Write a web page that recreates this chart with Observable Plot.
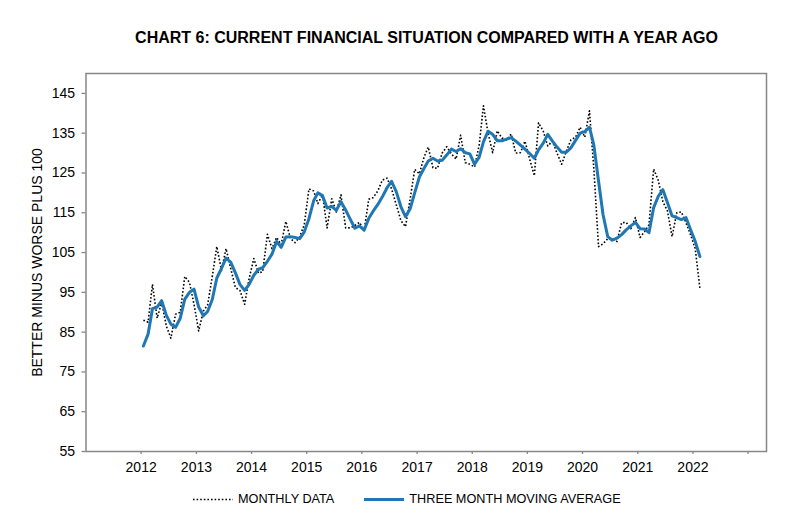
<!DOCTYPE html>
<html><head><meta charset="utf-8">
<script src="https://cdn.jsdelivr.net/npm/d3@7"></script>
<script src="https://cdn.jsdelivr.net/npm/@observablehq/plot@0.6"></script>
<style>
body{margin:0;background:#fff;font-family:"Liberation Sans",Arial,sans-serif;color:#000;}
#wrap{position:relative;width:797px;height:529px;overflow:hidden;}
#title{position:absolute;top:29px;left:0;width:797px;text-align:center;font-weight:bold;font-size:16px;line-height:18px;transform:translateX(28px);}
#chart{position:absolute;top:55px;left:0;}
#legend{position:absolute;top:492px;left:193px;font-size:12.7px;line-height:15px;height:15px;display:flex;align-items:center;white-space:nowrap;}
#legend svg{display:block;}
</style></head>
<body>
<div id="wrap">
  <div id="title"></div>
  <div id="chart"></div>
  <div id="legend"></div>
</div>
<script>
const titleText = "CHART 6: CURRENT FINANCIAL SITUATION COMPARED WITH A YEAR AGO";
const yLabel = "BETTER MINUS WORSE PLUS 100";
const seriesNames = ["MONTHLY DATA", "THREE MONTH MOVING AVERAGE"];
const startYear = 2012; // first month: January 2012
const monthly = [
  88, 87.5, 97, 88.5, 92.5, 86.5, 83.5, 89.5, 90, 99, 97.5, 92,
  85.3, 90.3, 91.8, 99, 106.5, 100.5, 106, 101, 96.2, 95.5, 92, 98.5,
  103.5, 99.8, 100.2, 109.6, 106, 108.8, 107, 112.8, 108.5, 107.5, 109, 112,
  121, 120.5, 117.3, 119.5, 111.2, 118.5, 115.2, 119.5, 111.2, 111.2, 111.8, 112.6,
  110.5, 118.4, 118.8, 120.5, 123.2, 123.7, 121, 117, 113, 111.5, 118.5, 125.9,
  124.8, 129, 131.5, 126.3, 126.2, 130, 131.6, 129.8, 128.5, 134.5, 127.6, 127.2,
  126.5, 132, 141.9, 135, 130.1, 135.6, 133.8, 133.3, 134.8, 130, 130.1, 133,
  128.5, 124.3, 137.6, 135.5, 131.8, 133, 130, 127.2, 130.5, 133.3, 134, 136.5,
  134, 140.6, 126, 106.5, 107.2, 108.5, 108.3, 107.8, 112.5, 112.6, 111, 113.8,
  108.8, 110.3, 112, 126, 123.2, 117.8, 115.5, 109, 115, 115.2, 112.5, 109.5,
  106, 96
];
const movingAvg = [
  81.5, 84.5, 90.9, 91.3, 92.9, 89.2, 87, 86.2, 88.5, 93.3, 95, 95.8,
  91.3, 89.1, 90.2, 93.2, 98.6, 101, 103.6, 102.6, 99.9, 97, 95.5, 97,
  99.3, 100.8, 101.2, 102.8, 104.6, 107.8, 106.3, 108.9, 109, 108.8, 108.5, 110.2,
  113.5, 118, 120, 119.3, 116.2, 116.6, 115.6, 117.8, 115.7, 113.4, 111.1, 111.7,
  110.6, 113.6, 115.4, 117.1, 119, 121.3, 122.9, 120.3, 116.5, 114, 116, 120,
  124, 126.2, 128, 128.7, 128, 128.2, 129.5, 131, 130.4, 131.1, 130.1, 129.8,
  127.2, 129, 132.8, 135.5, 134.7, 133.1, 133.1, 133.5, 133.9, 133, 132, 131,
  129.9, 128.7, 130.8, 132.5, 134.7, 133, 131.5, 130.2, 130.2, 131.3, 133.2, 135,
  135.4, 136.5, 132, 123, 114.5, 109, 108.1, 108.6, 109.5, 110.7, 111.7, 112.6,
  111, 110.9, 110, 116.3, 119.1, 120.8, 117.6, 114.2, 113.8, 113.3, 113.8, 110.8,
  107.8, 104
];
const yTicks = [55, 65, 75, 85, 95, 105, 115, 125, 135, 145];
const xTickYears = [2012, 2013, 2014, 2015, 2016, 2017, 2018, 2019, 2020, 2021, 2022, 2023];
const xTickLabels = ["2012", "2013", "2014", "2015", "2016", "2017", "2018", "2019", "2020", "2021", "2022", ""];

const rows = monthly.map((v, i) => ({
  date: new Date(Date.UTC(startYear, i, 16)),
  monthly: v,
  avg: movingAvg[i]
}));
const xTicks = xTickYears.map(y => new Date(Date.UTC(y, 0, 1)));
const labelOf = new Map(xTickYears.map((y, i) => [y, xTickLabels[i]]));

const blue = "#1F77B4";
const grey = "#878787";
const dash = "1.6,2";

const chart = Plot.plot({
  width: 797,
  height: 430,
  marginLeft: 85.5,
  marginRight: 31,
  marginTop: 18,
  marginBottom: 34,
  x: {type: "utc", domain: [new Date(Date.UTC(2011, 0, 1)), new Date(Date.UTC(2023, 4, 3))]},
  y: {domain: [55, 150]},
  style: {fontFamily: "'Liberation Sans', Arial, sans-serif", fontSize: "14px", color: "black", background: "white", overflow: "visible"},
  marks: [
    Plot.axisX({ticks: xTicks, tickFormat: d => labelOf.get(d.getUTCFullYear()), tickSize: 3, tickPadding: 8, stroke: grey, strokeWidth: 1.3, label: null}),
    Plot.axisY({ticks: yTicks, tickFormat: d => String(d), tickSize: 4, tickPadding: 7, stroke: grey, strokeWidth: 1.3, label: null}),
    Plot.frame({stroke: grey, strokeWidth: 1.5}),
    Plot.text([yLabel], {text: d => d, frameAnchor: "left", textAnchor: "middle", dx: -48.5, rotate: -90, fontSize: 14, fill: "black"}),
    Plot.line(rows, {x: "date", y: "monthly", stroke: "black", strokeWidth: 1.6, strokeDasharray: dash, strokeLinecap: "butt"}),
    Plot.line(rows, {x: "date", y: "avg", stroke: blue, strokeWidth: 3})
  ]
});
document.getElementById("chart").appendChild(chart);
document.getElementById("title").textContent = titleText;

const legend = document.getElementById("legend");
function swatch(dotted) {
  const ns = "http://www.w3.org/2000/svg";
  const s = document.createElementNS(ns, "svg");
  s.setAttribute("width", 40); s.setAttribute("height", 15);
  const l = document.createElementNS(ns, "line");
  l.setAttribute("x1", 0); l.setAttribute("x2", 40);
  l.setAttribute("y1", 7.5); l.setAttribute("y2", 7.5);
  if (dotted) {
    l.setAttribute("stroke", "black"); l.setAttribute("stroke-width", 1.6);
    l.setAttribute("stroke-dasharray", dash);
  } else {
    l.setAttribute("stroke", blue); l.setAttribute("stroke-width", 3);
  }
  s.appendChild(l);
  return s;
}
seriesNames.forEach((name, i) => {
  const sw = swatch(i === 0);
  sw.style.marginRight = "5px";
  if (i > 0) sw.style.marginLeft = "30px";
  legend.appendChild(sw);
  const t = document.createElement("span");
  t.textContent = name;
  legend.appendChild(t);
});
</script>
</body></html>
